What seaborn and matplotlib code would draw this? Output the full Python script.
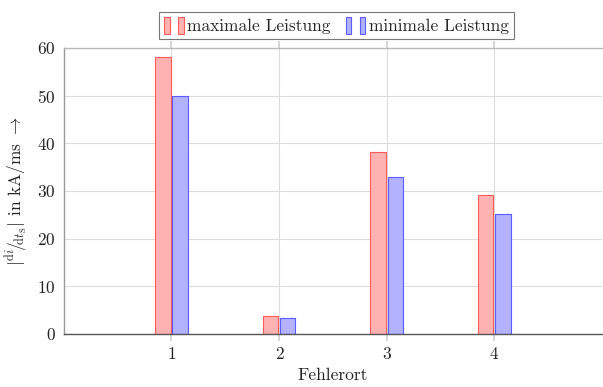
import matplotlib
matplotlib.use("Agg")
import matplotlib.pyplot as plt
import seaborn as sns
import pandas as pd
from matplotlib.patches import Rectangle
from matplotlib.legend_handler import HandlerTuple

categories = ["1", "2", "3", "4"]
series_names = ["maximale Leistung", "minimale Leistung"]
max_values = [58.1, 3.8, 38.2, 29.1]
min_values = [50.0, 3.4, 33.0, 25.2]
y_ticks = [0, 10, 20, 30, 40, 50, 60]

df = pd.DataFrame({
    "Fehlerort": categories * 2,
    "value": max_values + min_values,
    "series": [series_names[0]] * 4 + [series_names[1]] * 4,
})

sns.set_theme(style="white")
plt.rcParams["font.family"] = ["cmr10", "DejaVu Serif"]
plt.rcParams["mathtext.fontset"] = "cm"
plt.rcParams["axes.formatter.use_mathtext"] = True

face = {series_names[0]: "#ffb2b2", series_names[1]: "#b2b2ff"}
edge = ["#ff5a5a", "#5a5aff"]
FS = 12.5

fig = plt.figure(figsize=(6.03, 3.87), dpi=100)
ax = fig.add_axes([0.106, 0.137, 0.892, 0.739])

sns.barplot(data=df, x="Fehlerort", y="value", hue="series", palette=face,
            width=0.32, gap=0.1, ax=ax, legend=False, saturation=1)
for cont, ec in zip(ax.containers, edge):
    for bar in cont:
        bar.set_edgecolor(ec)
        bar.set_linewidth(0.8)

ax.set_xlim(-1, 4)
ax.set_ylim(0, 60)
ax.set_yticks(y_ticks)
ax.grid(True, color="#dcdcdc", linewidth=0.8)
ax.set_axisbelow(True)
ax.spines["right"].set_visible(False)
ax.spines["top"].set_color("#b8b8b8")
ax.spines["top"].set_linewidth(1.0)
ax.spines["left"].set_color("#999999")
ax.spines["left"].set_linewidth(1.0)
ax.spines["bottom"].set_color("#555555")
ax.spines["bottom"].set_linewidth(1.0)
ax.tick_params(axis="x", direction="out", length=5, color="#d0d0d0",
               labelsize=FS, labelcolor="#222222", top=True, bottom=True,
               pad=4)
ax.tick_params(axis="y", length=0, labelsize=FS, labelcolor="#222222",
               left=True, right=False, pad=6)
ax.set_xlabel("Fehlerort", fontsize=FS, color="#222222", labelpad=4)
ax.set_ylabel(r"$|{}^{\mathrm{d}i}\!/\!{}_{\mathrm{d}t_\mathrm{S}}|$ in kA/ms $\rightarrow$",
              fontsize=FS, color="#222222", labelpad=6)

handles = []
for fc, ec in zip(face.values(), edge):
    p1 = Rectangle((0, 0), 1, 1, facecolor=fc, edgecolor=ec, linewidth=0.8)
    p2 = Rectangle((0, 0), 1, 1, facecolor=fc, edgecolor=ec, linewidth=0.8)
    handles.append((p1, p2))
leg = ax.legend(handles, series_names, ncol=2, loc="lower center",
                bbox_to_anchor=(0.507, 1.0), frameon=True, fancybox=False,
                handler_map={tuple: HandlerTuple(ndivide=None, pad=0.5)},
                handlelength=1.1, handleheight=1.1, handletextpad=0.2,
                columnspacing=0.9, fontsize=FS, borderpad=0.3,
                borderaxespad=0.5)
leg.get_frame().set_edgecolor("#555555")
leg.get_frame().set_linewidth(0.8)

fig.savefig("out.png", dpi=100)
